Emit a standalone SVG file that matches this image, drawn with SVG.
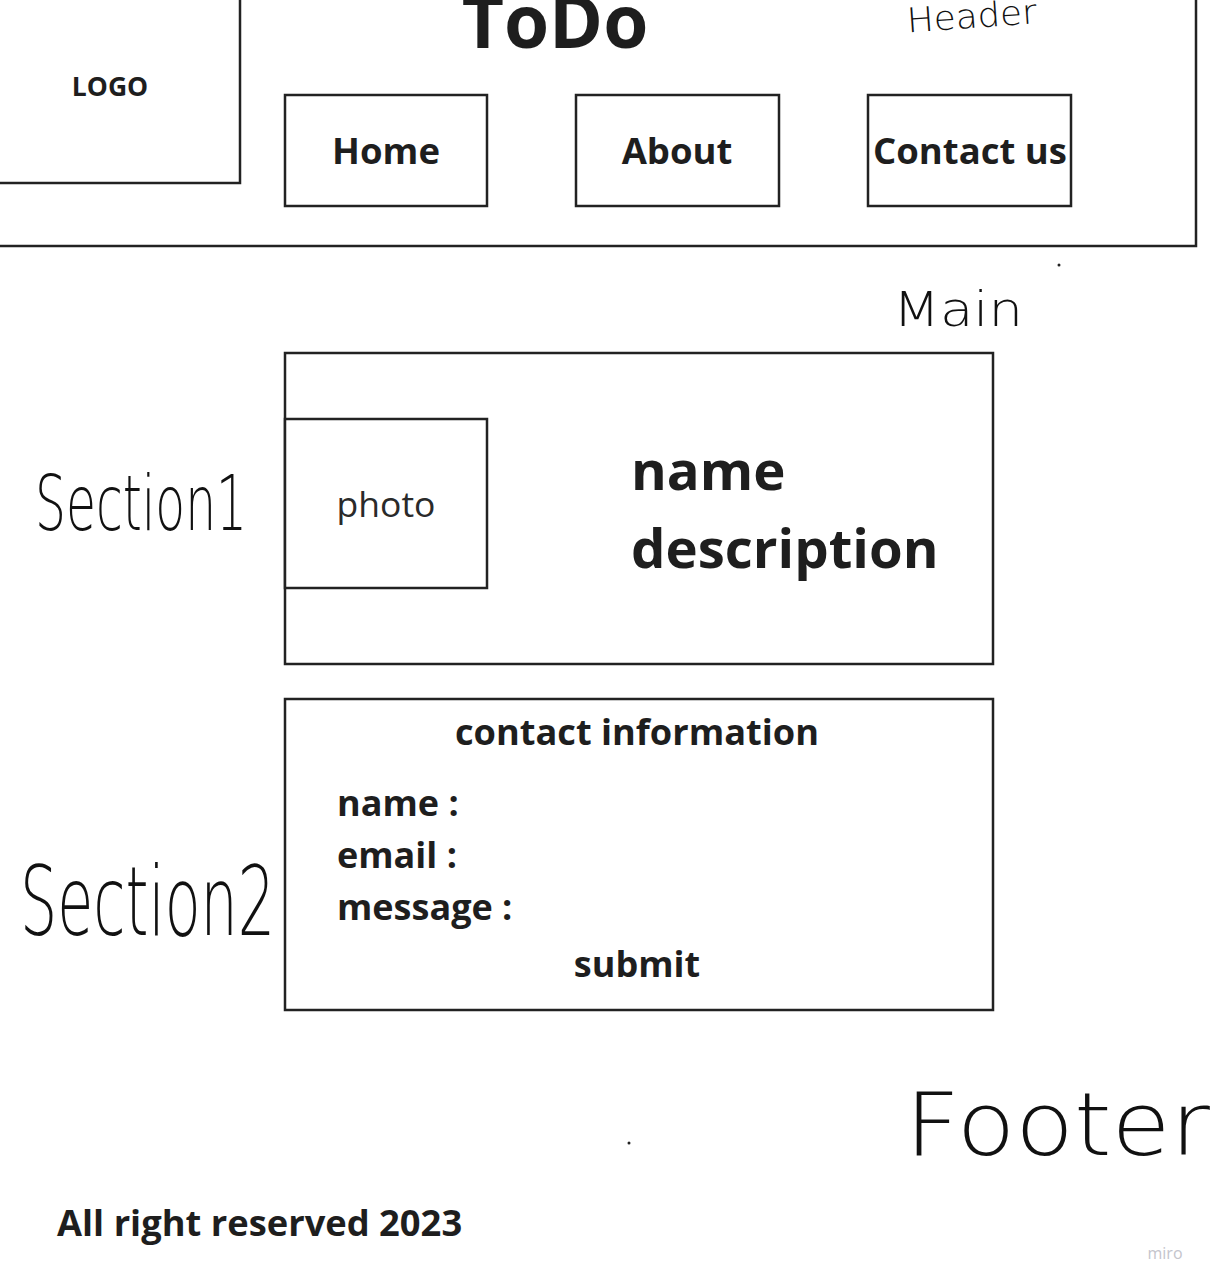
<svg xmlns="http://www.w3.org/2000/svg" width="1213" height="1287" viewBox="0 0 1213 1287">
<style>
.box{fill:#fff;stroke:#222;stroke-width:2.5}
.b{font-family:"Open Sans","Liberation Sans",sans-serif;font-weight:700;fill:#1e1e1e}
.r{font-family:"Open Sans","Liberation Sans",sans-serif;font-weight:400;fill:#2a2a2a}
.hw{font-family:"DejaVu Sans","Open Sans",sans-serif;font-weight:200;fill:#111}
</style>
<rect width="1213" height="1287" fill="#fff"/>
<g id="header">
<rect class="box" x="-5" y="-5" width="1201" height="251"/>
<text class="b" x="555" y="48" font-size="73" text-anchor="middle">ToDo</text>
</g>
<g id="logo">
<rect class="box" x="-5" y="-5" width="245" height="188"/>
<text class="b" x="110" y="96" font-size="26.5" text-anchor="middle">LOGO</text>
</g>
<g id="nav-home">
<rect class="box" x="285" y="95" width="202" height="111"/>
<text class="b" x="386" y="164" font-size="36.5" text-anchor="middle">Home</text>
</g>
<g id="nav-about">
<rect class="box" x="576" y="95" width="203" height="111"/>
<text class="b" x="677" y="164" font-size="36.5" text-anchor="middle">About</text>
</g>
<g id="nav-contact">
<rect class="box" x="868" y="95" width="203" height="111"/>
<text class="b" x="970" y="164" font-size="36.5" text-anchor="middle">Contact us</text>
</g>
<g id="section1">
<rect class="box" x="285" y="353" width="708" height="311"/>
<text class="b" x="631" y="490" font-size="54.5">name</text>
<text class="b" x="631" y="568" font-size="54.5">description</text>
</g>
<g id="photo">
<rect class="box" x="285" y="419" width="202" height="169"/>
<text class="r" x="386" y="517" font-size="35.5" text-anchor="middle">photo</text>
</g>
<g id="section2">
<rect class="box" x="285" y="699" width="708" height="311"/>
<text class="b" x="637" y="745" font-size="36.2" text-anchor="middle">contact information</text>
<text class="b" x="337" y="816" font-size="36">name :</text>
<text class="b" x="337" y="868" font-size="36">email :</text>
<text class="b" x="337" y="920" font-size="36">message :</text>
<text class="b" x="637" y="977" font-size="36" text-anchor="middle">submit</text>
</g>
<g id="footer">
<text class="b" x="57" y="1236" font-size="36.3">All right reserved 2023</text>
</g>
<g id="labels">
<text class="hw" x="907" y="28" font-size="34" textLength="130" lengthAdjust="spacingAndGlyphs" transform="rotate(-4 970 20)">Header</text>
<text class="hw" x="893" y="326" font-size="48" textLength="130" lengthAdjust="spacingAndGlyphs">Main</text>
<text class="hw" x="0" y="0" font-size="49" textLength="212" lengthAdjust="spacingAndGlyphs" transform="translate(35 530) scale(1 1.55)">Section1</text>
<text class="hw" x="0" y="0" font-size="58" textLength="255" lengthAdjust="spacingAndGlyphs" transform="translate(20 935) scale(1 1.65)">Section2</text>
<text class="hw" x="905" y="1155" font-size="88" textLength="305" lengthAdjust="spacingAndGlyphs">Footer</text>
<circle cx="1059" cy="265" r="1.5" fill="#222"/>
<circle cx="629" cy="1143" r="1.5" fill="#222"/>
</g>
<text x="1165" y="1259" font-family="Open Sans, sans-serif" font-size="16" fill="#c4c4cc" text-anchor="middle">miro</text>
</svg>
